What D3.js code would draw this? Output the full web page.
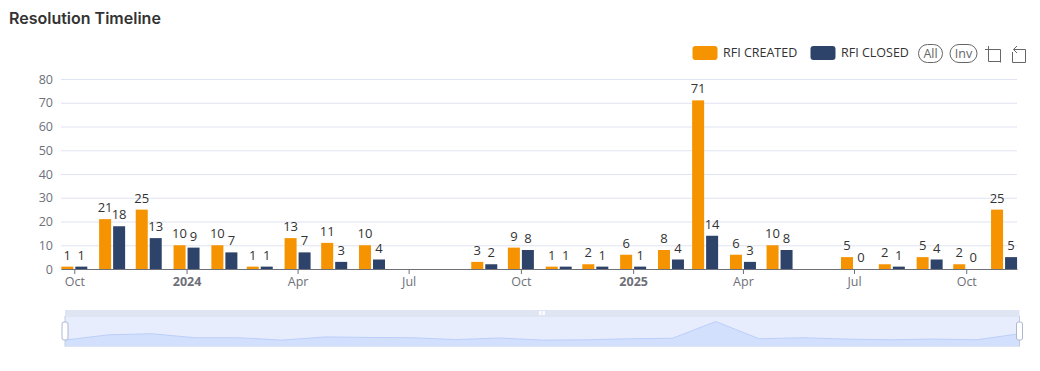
<!DOCTYPE html>
<html lang="en">
<head>
    <meta charset="UTF-8">
    <title>Resolution Timeline</title>
    <script src="https://d3js.org/d3.v7.min.js"></script>
    <style>
        html, body { margin: 0; padding: 0; background: #fff; overflow: hidden; }
        svg { display: block; }
        text { font-family: "Open Sans", Arial, sans-serif; }
        .title { font-family: Inter, Arial, sans-serif; font-size: 16px; font-weight: 600; fill: #333; }
        .axis text { font-size: 12.5px; fill: #6e7079; }
        .axis .domain { stroke: #6e7079; }
        .axis .tick line { stroke: #6e7079; }
        .y-axis .domain { display: none; }
        .y-axis .tick line { stroke: #e0e3f1; }
        .value { font-size: 13px; fill: #333; text-anchor: middle; }
        .legend-label { font-size: 12.5px; fill: #333; }
        .pill { fill: #fff; stroke: #666; }
        .pill-label { font-size: 12.5px; fill: #666; text-anchor: middle; }
        .tool { fill: none; stroke: #666; stroke-width: 1; }
    </style>
</head>
<body>
    <div id="chart"></div>

    <script>
        // monthly data, null = month missing from the source
        const months = [
            "2023-10", "2023-11", "2023-12", "2024-01", "2024-02", "2024-03", "2024-04", "2024-05", "2024-06",
            "2024-07", "2024-08", "2024-09", "2024-10", "2024-11", "2024-12", "2025-01", "2025-02", "2025-03",
            "2025-04", "2025-05", "2025-06", "2025-07", "2025-08", "2025-09", "2025-10", "2025-11"
        ];
        const created = [1, 21, 25, 10, 10, 1, 13, 11, 10, null, null, 3, 9, 1, 2, 6, 8, 71, 6, 10, null, 5, 2, 5, 2, 25];
        const closed = [1, 18, 13, 9, 7, 1, 7, 3, 4, null, null, 2, 8, 1, 1, 1, 4, 14, 3, 8, null, 0, 1, 4, 0, 5];

        const seriesNames = ["RFI CREATED", "RFI CLOSED"];
        const seriesColors = ["#f59300", "#2e4369"];
        const tickMonths = ["2023-10", "2024-01", "2024-04", "2024-07", "2024-10", "2025-01", "2025-04", "2025-07", "2025-10"];
        const tickLabels = ["Oct", "2024", "Apr", "Jul", "Oct", "2025", "Apr", "Jul", "Oct"];
        const yTicks = [0, 10, 20, 30, 40, 50, 60, 70, 80];

        const width = 1040, height = 371;
        const margin = { top: 79, right: 23, bottom: 102, left: 61 };
        const barWidth = 12, barGap = 2;

        const parseMonth = d3.utcParse("%Y-%m");
        const dates = months.map(parseMonth);

        const svg = d3.select("#chart").append("svg")
            .attr("width", width)
            .attr("height", height);

        svg.append("text")
            .attr("class", "title")
            .attr("x", 9)
            .attr("y", 24)
            .text("Resolution Timeline");

        // scales: half a bar group of padding on both ends of the time axis
        const dayMs = 86400000;
        const x = d3.scaleUtc()
            .domain([new Date(dates[0].getTime() - 10.9 * dayMs), new Date(dates[dates.length - 1].getTime() + 10.6 * dayMs)])
            .range([margin.left, width - margin.right]);

        const y = d3.scaleLinear()
            .domain([0, 80])
            .range([height - margin.bottom, margin.top]);

        // y axis + grid
        svg.append("g")
            .attr("class", "axis y-axis")
            .attr("transform", `translate(${margin.left},0)`)
            .call(d3.axisLeft(y).tickValues(yTicks).tickSize(-(width - margin.left - margin.right)).tickPadding(8));

        // bars and value labels
        const rows = dates.map((d, i) => ({ date: d, values: [created[i], closed[i]] }))
            .filter(d => d.values[0] !== null);

        seriesNames.forEach((name, s) => {
            const offset = s === 0 ? -barWidth - barGap / 2 : barGap / 2;

            svg.append("g").selectAll("rect")
                .data(rows)
                .enter()
                .append("rect")
                .attr("x", d => x(d.date) + offset)
                .attr("y", d => y(d.values[s]))
                .attr("width", barWidth)
                .attr("height", d => y(0) - y(d.values[s]))
                .attr("fill", seriesColors[s]);

            svg.append("g").selectAll("text")
                .data(rows)
                .enter()
                .append("text")
                .attr("class", "value")
                .attr("x", d => x(d.date) + offset + barWidth / 2)
                .attr("y", d => y(d.values[s]) - 7)
                .text(d => d.values[s]);
        });

        // x axis goes over the bars
        const xAxis = svg.append("g")
            .attr("class", "axis x-axis")
            .attr("transform", `translate(0,${y(0)})`)
            .call(d3.axisBottom(x)
                .tickValues(tickMonths.map(parseMonth))
                .tickFormat((d, i) => tickLabels[i])
                .tickSizeInner(5)
                .tickSizeOuter(0)
                .tickPadding(3));

        xAxis.selectAll("text")
            .style("font-weight", (d, i) => /^\d+$/.test(tickLabels[i]) ? "bold" : "normal");

        // legend
        const legendX = [692, 810];
        const legend = svg.append("g");
        seriesNames.forEach((name, s) => {
            legend.append("rect")
                .attr("x", legendX[s] + 0.5)
                .attr("y", 46)
                .attr("width", 25)
                .attr("height", 14)
                .attr("rx", 3)
                .attr("fill", seriesColors[s]);
            legend.append("text")
                .attr("class", "legend-label")
                .attr("x", legendX[s] + 31)
                .attr("y", 57)
                .text(name);
        });

        // All / Inv selectors
        [["All", 918, 24], ["Inv", 949.5, 27]].forEach(([label, px, pw]) => {
            legend.append("rect")
                .attr("class", "pill")
                .attr("x", px + 0.5)
                .attr("y", 44.5)
                .attr("width", pw)
                .attr("height", 18)
                .attr("rx", 9);
            legend.append("text")
                .attr("class", "pill-label")
                .attr("x", px + pw / 2 + 0.5)
                .attr("y", 58)
                .text(label);
        });

        // toolbox icons
        svg.append("path")
            .attr("class", "tool")
            .attr("d", "M985 49.5H1000.5V62.5M988.5 46V61.5H1000.5");
        svg.append("path")
            .attr("class", "tool")
            .attr("d", "M1012.5 52V62.5H1025.5V49.5H1013.5M1017 46L1013.5 49.5L1017 53");

        // dataZoom slider, the preview only walks the months that have data
        const sliderLeft = 65, sliderRight = 1019.5, sliderTop = 310, sliderMid = 317, sliderBottom = 346.5;
        const slider = svg.append("g");

        slider.append("rect")
            .attr("x", sliderLeft).attr("y", sliderTop)
            .attr("width", sliderRight - sliderLeft).attr("height", sliderMid - sliderTop)
            .attr("fill", "#dfe5f3");
        slider.append("rect")
            .attr("x", sliderLeft).attr("y", sliderMid)
            .attr("width", sliderRight - sliderLeft).attr("height", sliderBottom - sliderMid)
            .attr("fill", "#e7edfd");

        const preview = created.filter(d => d !== null);
        const px = d3.scalePoint()
            .domain(d3.range(preview.length))
            .range([sliderLeft, sliderRight]);
        const py = d3.scaleLinear()
            .domain([-23, 71])
            .range([sliderBottom, 321.5]);

        slider.append("path")
            .datum(preview)
            .attr("fill", "#d3e0fd")
            .attr("d", d3.area().x((d, i) => px(i)).y0(sliderBottom).y1(d => py(d)));
        slider.append("path")
            .datum(preview)
            .attr("fill", "none")
            .attr("stroke", "#bccffa")
            .attr("d", d3.line().x((d, i) => px(i)).y(d => py(d)));
        slider.append("rect")
            .attr("x", sliderLeft).attr("y", sliderBottom - 1)
            .attr("width", sliderRight - sliderLeft).attr("height", 1)
            .attr("fill", "#d6dff2");

        // drag grip in the top strip
        [539, 542.5].forEach(gx => {
            slider.append("rect")
                .attr("x", gx).attr("y", 311)
                .attr("width", 2.5).attr("height", 4)
                .attr("fill", "#fbfcfe");
        });

        // end handles
        [sliderLeft, sliderRight].forEach(hx => {
            slider.append("line")
                .attr("x1", hx).attr("x2", hx)
                .attr("y1", 316).attr("y2", sliderBottom)
                .attr("stroke", "#c3cde2");
            slider.append("rect")
                .attr("x", hx - 3).attr("y", 322)
                .attr("width", 6).attr("height", 18)
                .attr("rx", 2)
                .attr("fill", "#fff")
                .attr("stroke", "#acb8d1");
        });
    </script>
</body>
</html>
